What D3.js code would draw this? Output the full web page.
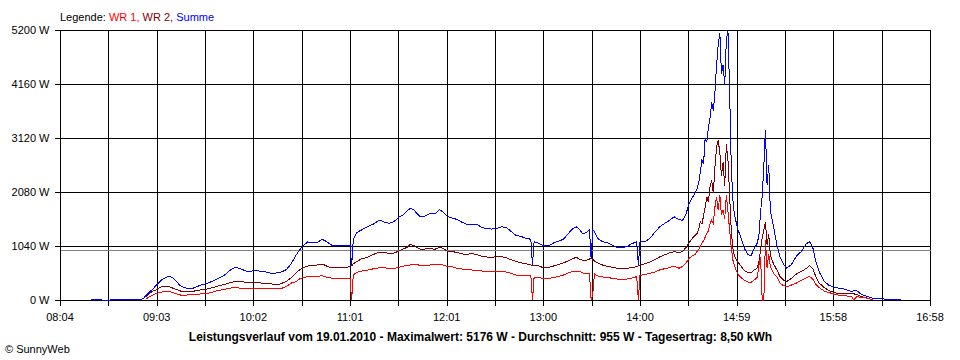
<!DOCTYPE html>
<html><head><meta charset="utf-8">
<script src="https://cdn.jsdelivr.net/npm/d3@7"></script>
<style>
html,body{margin:0;padding:0;background:#fff;}
svg{display:block;font-family:"Liberation Sans",Arial,sans-serif;}
</style></head><body>
<svg id="chart" width="960" height="360"></svg>
<script>
// ---- data ----
const times = ["08:23","08:28","08:30","08:35","08:37","08:50","08:55","08:57","08:59","09:01","09:03","09:05","09:07","09:09","09:11","09:13","09:15","09:18","09:22","09:26","09:30","09:35","09:40","09:45","09:49","09:52","09:55","09:59","10:04","10:09","10:14","10:19","10:23","10:26","10:29","10:31","10:33","10:36","10:39","10:42","10:45","10:48","10:51","10:54","10:57","11:00","11:01","11:02","11:03","11:04","11:06","11:09","11:13","11:17","11:20","11:23","11:26","11:29","11:32","11:35","11:37","11:39","11:41","11:43","11:45","11:48","11:51","11:54","11:57","11:59","12:02","12:05","12:08","12:11","12:14","12:17","12:20","12:23","12:26","12:29","12:32","12:35","12:38","12:41","12:44","12:47","12:50","12:53","12:54","12:55","12:58","13:01","13:04","13:07","13:10","13:13","13:16","13:19","13:21","13:23","13:25","13:27","13:29","13:30","13:31","13:32","13:34","13:37","13:40","13:43","13:46","13:49","13:52","13:55","13:58","13:59","14:00","14:03","14:06","14:09","14:12","14:15","14:18","14:21","14:24","14:26","14:28","14:30","14:32","14:34","14:35","14:36","14:37","14:38","14:39","14:40","14:41","14:42","14:43","14:44","14:45","14:46","14:47","14:48","14:49","14:50","14:51","14:52","14:53","14:54","14:55","14:56","14:57","14:58","15:00","15:02","15:04","15:06","15:08","15:10","15:12","15:13","15:14","15:15","15:16","15:17","15:18","15:19","15:20","15:22","15:24","15:26","15:28","15:30","15:33","15:36","15:39","15:42","15:44","15:46","15:48","15:50","15:53","15:56","16:00","16:05","16:10","16:11","16:13","16:16","16:20","16:23","16:30","16:38","16:40"];

const summe = [15,15,0,0,15,15,20,96,154,212,279,347,404,433,462,433,372,270,225,231,283,327,395,481,587,630,597,549,564,549,514,526,587,703,867,963,1040,1117,1107,1111,1169,1117,1050,1059,1059,1040,1050,1059,655,1156,1296,1348,1412,1473,1541,1502,1477,1512,1593,1646,1714,1766,1743,1670,1604,1618,1666,1656,1743,1695,1608,1574,1550,1493,1454,1464,1454,1396,1371,1367,1377,1410,1396,1319,1242,1223,1190,1169,674,1123,1092,1040,1050,1098,1133,1169,1281,1381,1410,1352,1271,1300,1358,799,1348,1319,1188,1123,1107,1054,1011,1011,1030,1084,1123,674,1123,1123,1184,1300,1406,1473,1531,1602,1550,1531,1637,1839,1964,2070,2138,2253,2465,2696,2619,3120,3043,3332,3505,3813,3640,4006,4526,4911,5142,4352,4526,4140,5008,5176,4044,2600,1926,1637,1367,1194,1001,886,847,980,1098,1252,1695,2003,2581,3274,2215,2600,1733,1406,1059,828,693,611,684,847,934,1078,1123,1021,732,539,366,279,241,212,164,175,179,106,64,33,19,13,0];

const wr2 = [null,null,null,null,null,null,null,64,125,173,193,241,260,270,260,231,206,173,160,170,193,216,260,299,337,366,356,337,341,322,308,308,356,433,524,578,620,655,655,674,693,649,616,630,630,622,636,655,655,693,738,790,828,886,919,919,896,905,944,986,1015,1069,1053,1011,982,982,992,976,1011,996,938,930,915,886,882,892,876,838,828,822,834,834,813,774,741,716,699,674,670,664,655,616,626,655,684,718,751,799,822,784,761,761,790,794,780,751,713,674,649,630,611,611,611,626,641,655,674,697,732,774,828,867,905,930,911,934,1001,1098,1184,1252,1281,1348,1502,1464,1618,1791,1989,1893,2176,2311,2061,2562,2947,3082,2831,2388,2658,2196,3005,2696,2022,1348,1001,847,732,655,568,530,520,578,616,732,963,1194,1348,1502,1059,1271,867,693,578,449,385,352,418,501,549,607,664,607,443,327,241,179,135,116,125,120,106,67,33,0,null,null,null];

const wr1 = [null,null,null,null,null,null,null,20,67,96,125,144,158,167,173,144,125,96,96,100,116,129,173,206,231,237,227,225,225,218,212,212,260,327,351,404,433,449,449,453,468,437,418,418,418,418,418,418,0,481,533,555,578,605,620,630,597,605,630,655,668,674,684,693,655,668,674,688,693,674,645,636,607,597,585,578,568,558,558,558,558,558,539,510,481,476,472,468,0,437,437,408,414,433,453,481,520,553,555,547,520,514,514,0,100,501,462,443,433,418,404,404,404,424,449,0,476,491,510,539,578,601,624,655,611,645,703,799,847,886,934,973,1040,1098,1136,1213,1290,1329,1473,1541,1477,1791,1984,1733,2022,1637,1733,1560,2022,1695,1348,1021,770,655,501,433,385,347,337,385,433,674,828,0,0,1156,616,886,636,510,443,322,279,256,289,327,376,428,456,404,299,241,173,144,102,83,67,0,64,52,33,0,null,null,null];

const seriesNames = ["WR 1", "WR 2", "Summe"];
const seriesColors = ["#ff0000", "#800000", "#0000ff"];
const yTickValues = [0, 1040, 2080, 3120, 4160, 5200];
const xTickLabels = ["08:04","09:03","10:02","11:01","12:01","13:00","14:00","14:59","15:58","16:58"];
const startTime = "08:04", endTime = "16:58";
const average = 955;
const legendLabel = "Legende: ";
const titleText = "Leistungsverlauf vom 19.01.2010 - Maximalwert: 5176 W - Durchschnitt: 955 W - Tagesertrag: 8,50 kWh";
const creditText = "\u00A9 SunnyWeb";

// ---- chart ----
const toMin = s => +s.slice(0, 2) * 60 + +s.slice(3);
const svg = d3.select("#chart");
const x = d3.scaleLinear().domain([toMin(startTime), toMin(endTime)]).range([60, 930]);
const y = d3.scaleLinear().domain([0, 5200]).range([300, 30]);
const px = v => Math.round(v) + 0.5;

const [d0, d1] = x.domain();
const gridTimes = d3.range((xTickLabels.length - 1) * 2 + 1).map(k => d0 + k * (d1 - d0) / ((xTickLabels.length - 1) * 2));

const grid = svg.append("g").attr("shape-rendering", "crispEdges").attr("stroke", "#000").attr("stroke-width", 1);
grid.selectAll("line.v").data(gridTimes).join("line").attr("class", "v")
  .attr("x1", d => px(x(d))).attr("x2", d => px(x(d)))
  .attr("y1", px(y(5200))).attr("y2", px(y(0)) + 5);
grid.selectAll("line.h").data(yTickValues).join("line").attr("class", "h")
  .attr("x1", 55).attr("x2", px(x(d1)))
  .attr("y1", d => px(y(d))).attr("y2", d => px(y(d)));

// average line
svg.append("line").attr("shape-rendering", "crispEdges")
  .attr("x1", px(x(d0))).attr("x2", px(x(d1)))
  .attr("y1", px(y(average))).attr("y2", px(y(average)))
  .attr("stroke", "#808080");

// y labels
svg.append("g").selectAll("text").data(yTickValues).join("text")
  .attr("x", 49.5).attr("y", d => Math.round(y(d)) + 4)
  .attr("text-anchor", "end").attr("font-size", 11).attr("fill", "#000")
  .text(d => d + " W");

// x labels
svg.append("g").selectAll("text").data(xTickLabels).join("text")
  .attr("x", (d, i) => x(gridTimes[i * 2])).attr("y", 320.5)
  .attr("text-anchor", "middle").attr("font-size", 11).attr("fill", "#000")
  .text(d => d);

// series
const tm = times.map(toMin);
const seriesData = [wr1, wr2, summe];
const drawOrder = [1, 0, 2];
drawOrder.forEach(si => {
  const vals = seriesData[si];
  const line = d3.line()
    .defined((d, i) => vals[i] !== null)
    .x((d, i) => x(tm[i]))
    .y((d, i) => y(vals[i]));
  svg.append("path").datum(vals)
    .attr("d", line)
    .attr("fill", "none")
    .attr("stroke", seriesColors[si])
    .attr("stroke-width", 1)
    .attr("shape-rendering", "crispEdges");
});

// legend
const leg = svg.append("text").attr("x", 60).attr("y", 20.5).attr("font-size", 11)
  .style("white-space", "pre");
leg.append("tspan").attr("fill", "#000").text(legendLabel);
seriesNames.forEach((n, i) => {
  leg.append("tspan").attr("fill", seriesColors[i]).text(n + (i < seriesNames.length - 1 ? ", " : ""));
});

// title
svg.append("text").attr("x", 480.5).attr("y", 340.5).attr("text-anchor", "middle")
  .attr("font-size", 12).attr("font-weight", "bold").attr("fill", "#000").text(titleText);

// credit
svg.append("text").attr("x", 5).attr("y", 352.5).attr("font-size", 11).attr("fill", "#000").text(creditText);
</script>
</body></html>
